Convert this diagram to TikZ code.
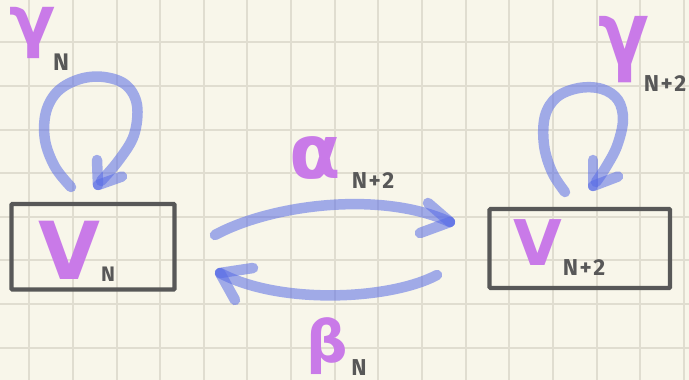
\documentclass[tikz,border=0pt]{standalone}
\usepackage{fontspec}
\setmainfont{Fira Sans}
\newfontfamily\glyphfont{DejaVu Sans}

\definecolor{paper}{RGB}{248,246,234}
\definecolor{gridline}{RGB}{224,221,208}
\definecolor{ink}{RGB}{88,88,88}
\definecolor{violet}{RGB}{201,122,232}
\definecolor{brushblue}{RGB}{88,108,230}

\tikzset{
  bluestroke/.style={draw=brushblue, line width=10.5pt, line cap=round,
    line join=round, draw opacity=0.55},
  boxframe/.style={draw=ink, line width=4.3pt, inner sep=0pt, rounded corners=1pt},
  letter/.style={text=violet, inner sep=0pt},
  sub/.style={text=ink, inner sep=0pt, font=\bfseries\fontsize{23}{23}\selectfont},
}
\newcommand{\glyphsize}[1]{\glyphfont\bfseries\fontsize{#1}{#1}\selectfont}
\newcommand{\nplustwo}{N\kern1.5pt+\kern1.5pt2}

\begin{document}
\begin{tikzpicture}[x=1pt, y=-1pt]
  % paper and its grid
  \useasboundingbox (0,0) rectangle (689,380);
  \fill[paper] (0,0) rectangle (689,380);
  \foreach \i in {0,...,15}
    \draw[gridline, line width=2pt] ({29.2+43.65*\i},0) -- ({29.2+43.65*\i},380);
  \foreach \j in {0,...,7}
    \draw[gridline, line width=2pt] (0,{42.3+43.6*\j}) -- (689,{42.3+43.6*\j});

  % the two spaces
  \node[boxframe, minimum width=163pt, minimum height=85.6pt] (boxL) at (93,246.7) {};
  \node[boxframe, minimum width=180.5pt, minimum height=79pt] (boxR) at (579.8,248.5) {};

  \node[letter, font=\glyphsize{80}] (VL) at (69,250) {V};
  \node[sub, font=\bfseries\fontsize{21}{21}\selectfont] (VLsub) at (108,274) {N};
  \node[letter, font=\glyphsize{63}] (VR) at (538,243) {V};
  \node[sub] (VRsub) at (584,268) {\nplustwo};

  % operator labels
  \node[letter, font=\glyphsize{68}] (gL) at (33,33) {γ};
  \node[sub, font=\bfseries\fontsize{24}{24}\selectfont] (gLsub) at (61,62) {N};
  \node[letter, font=\glyphsize{88}] (gR) at (624,50) {\scalebox{0.85}[1]{γ}};
  \node[sub] (gRsub) at (665,84) {\nplustwo};
  \node[letter, font=\glyphsize{75}] (al) at (315,158) {α};
  \node[sub] (alsub) at (373,181) {\nplustwo};
  \node[letter, font=\glyphsize{58}] (be) at (327,346) {β};
  \node[sub] (besub) at (359,368) {N};

  % end points of the strokes
  \coordinate (loopLa) at (71,187);
  \coordinate (loopLb) at (101,181);
  \coordinate (tipLL) at (98,185);
  \coordinate (loopRa) at (565,192);
  \coordinate (loopRb) at (596,182);
  \coordinate (tipRL) at (593,186);
  \coordinate (upA) at (215,235);
  \coordinate (upB) at (450,222);
  \coordinate (dnA) at (437,275);
  \coordinate (dnB) at (220,273);

  % self loops
  \draw[bluestroke] plot[smooth, tension=0.6] coordinates {(loopLa) (55,167) (45,140) (46,112)
    (58,91) (80,79) (104,77) (126,85) (137,105) (134,135) (119,160) (loopLb)};
  \draw[bluestroke] (tipLL) -- (97,160);
  \draw[bluestroke] (tipLL) -- (122,176.5);

  \draw[bluestroke] plot[smooth, tension=0.6] coordinates {(loopRa) (552,172) (544,145) (545,116)
    (557,97) (579,88) (602,89) (618,100) (623,120) (617,146) (606,167) (loopRb)};
  \draw[bluestroke] (tipRL) -- (593,160);
  \draw[bluestroke] (tipRL) -- (618,176.5);

  % maps between the spaces
  \draw[bluestroke] (upA) .. controls (270,205) and (380,190) .. (upB);
  \draw[bluestroke] (upB) -- (428,203);
  \draw[bluestroke] (upB) -- (420,233);

  \draw[bluestroke] (dnA) .. controls (390,300) and (280,305) .. (dnB);
  \draw[bluestroke] (dnB) -- (253,268);
  \draw[bluestroke] (dnB) -- (235,300);
\end{tikzpicture}
\end{document}
